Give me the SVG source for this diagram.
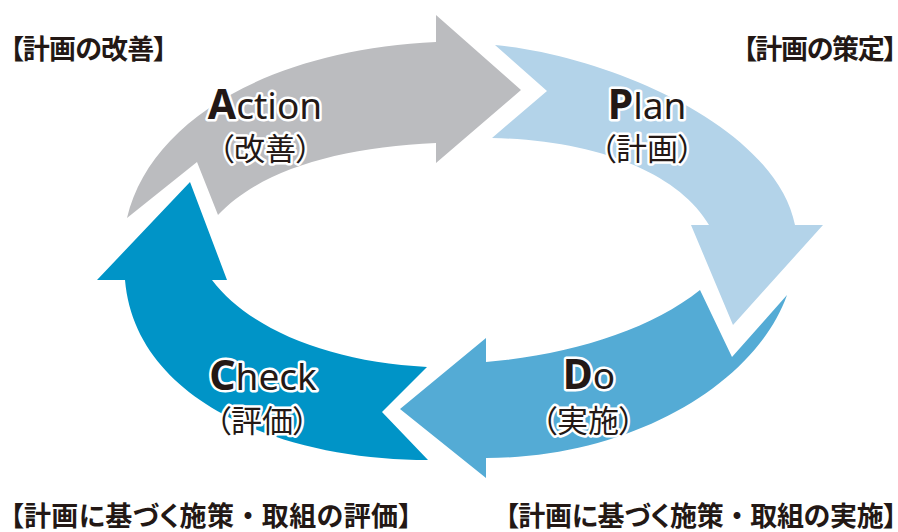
<svg xmlns="http://www.w3.org/2000/svg" width="898" height="532" viewBox="0 0 898 532">
<style>
.lat{font-family:"Noto Sans","Open Sans",sans-serif;font-size:37px;fill:#231815;stroke:#fff;stroke-width:5px;stroke-linejoin:round;paint-order:stroke;text-anchor:middle}
.lat .b{font-weight:700;font-size:41px}
.jp{font-family:"Noto Sans CJK JP",sans-serif;font-size:31px;fill:#231815;stroke:#fff;stroke-width:5px;stroke-linejoin:round;paint-order:stroke;text-anchor:middle;font-feature-settings:"palt"}
.cap{font-family:"Noto Sans CJK JP",sans-serif;font-size:27px;font-weight:700;fill:#231815;font-feature-settings:"palt"}
.cap .dot{font-feature-settings:normal}
</style>
<rect width="898" height="532" fill="#fff"/>
<g id="action">
<path fill="#BBBCBF" d="M127,218 C150,120 270,50 436,42 L436,15 L521,90 L436,163 L436,143 C340,147 260,170 218,215 L197,162 Z"/>
<text class="lat" x="265" y="119"><tspan class="b">A</tspan>ction</text>
<text class="jp" x="265" y="160">（改善）</text>
</g>
<g id="plan">
<path fill="#B3D3E9" d="M495,45 C605,55 775,125 795,225 L823,225 L733,325 L691,225 L709,225 C680,175 600,140 492,138 L547,91 Z"/>
<text class="lat" x="647" y="119"><tspan class="b">P</tspan>lan</text>
<text class="jp" x="647" y="160">（計画）</text>
</g>
<g id="do">
<path fill="#54ABD5" d="M787,295 C755,385 630,458 486,458 L486,478 L400,409 L486,338 L486,362 C570,355 650,330 700,290 L732,357 Z"/>
<text class="lat" x="589" y="389"><tspan class="b">D</tspan>o</text>
<text class="jp" x="588" y="432">（実施）</text>
</g>
<g id="check">
<path fill="#0094C7" d="M125,280 C135,400 280,460 428,460 L382,412 L427,367 C330,362 250,330 212,280 L227,280 L190,182 L97,280 Z"/>
<text class="lat" x="263" y="390"><tspan class="b">C</tspan>heck</text>
<text class="jp" x="262" y="432">（評価）</text>
</g>
<g id="connectors"></g>
<g id="label-action"><text class="cap" x="10" y="59" textLength="157" lengthAdjust="spacing">【計画の改善】</text></g>
<g id="label-plan"><text class="cap" x="743" y="59" textLength="154" lengthAdjust="spacing">【計画の策定】</text></g>
<g id="label-check"><text class="cap" x="10" y="526" textLength="402" lengthAdjust="spacing">【計画に基づく施策<tspan class="dot">・</tspan>取組の評価】</text></g>
<g id="label-do"><text class="cap" x="505" y="526" textLength="392" lengthAdjust="spacing">【計画に基づく施策<tspan class="dot">・</tspan>取組の実施】</text></g>
</svg>
